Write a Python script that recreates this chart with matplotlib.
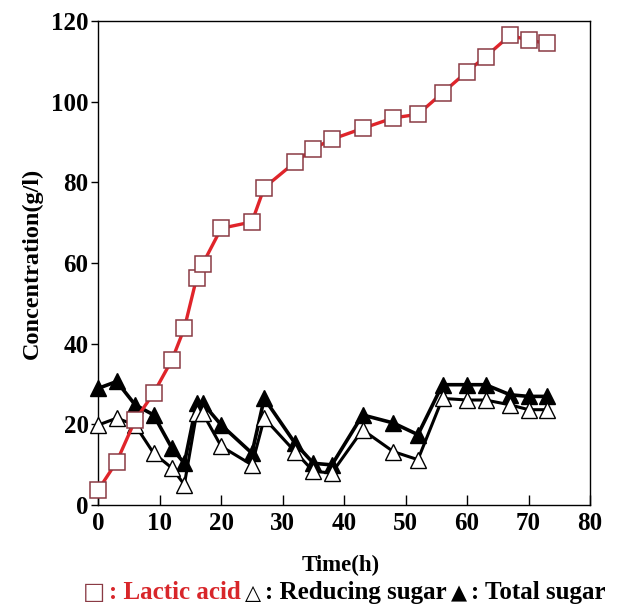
import matplotlib
matplotlib.use("Agg")
import matplotlib.pyplot as plt
from matplotlib.offsetbox import TextArea, HPacker, AnchoredOffsetbox

time_h = [0, 3, 6, 9, 12, 14, 16, 17, 20, 25, 27, 32, 35, 38, 43, 48, 52, 56, 60, 63, 67, 70, 73]
lactic_acid = [3.7, 10.7, 21.0, 27.7, 36.0, 43.8, 56.3, 59.8, 68.6, 70.2, 78.7, 85.0, 88.4, 90.7,
               93.4, 96.0, 96.9, 102.2, 107.5, 111.2, 116.5, 115.3, 114.5]
reducing_sugar = [19.8, 21.5, 19.8, 12.8, 9.1, 5.0, 22.7, 22.7, 14.5, 9.9, 21.5, 13.2, 8.3, 7.9,
                  18.6, 13.2, 11.2, 26.4, 26.0, 26.0, 24.8, 23.6, 23.6]
total_sugar = [28.9, 30.6, 24.8, 22.3, 14.0, 10.3, 25.2, 25.2, 19.8, 12.8, 26.4, 15.3, 10.3, 9.9,
               22.3, 20.3, 17.4, 29.8, 29.8, 29.8, 27.3, 26.9, 26.9]

x_ticks = [0, 10, 20, 30, 40, 50, 60, 70, 80]
y_ticks = [0, 20, 40, 60, 80, 100, 120]

plt.rcParams['font.family'] = ['Liberation Serif', 'DejaVu Serif']
plt.rcParams['font.weight'] = 'bold'

fig = plt.figure(figsize=(6.22, 6.06), dpi=100)
ax = fig.add_axes([0.158, 0.167, 0.7906, 0.798])

ax.plot(time_h, total_sugar, color='black', lw=2.6, marker='^', ms=11,
        mfc='black', mec='black', clip_on=False, zorder=3)
ax.plot(time_h, reducing_sugar, color='black', lw=2.2, marker='^', ms=12,
        mfc='white', mec='black', mew=1.0, clip_on=False, zorder=4)
ax.plot(time_h, lactic_acid, color='#e0242a', lw=2.4, marker='s', ms=12,
        mfc='white', mec='#8a3a44', mew=1.1, clip_on=False, zorder=5)

ax.set_xlim(0, 80)
ax.set_ylim(0, 120)
ax.set_xticks(x_ticks)
ax.set_yticks(y_ticks)
ax.tick_params(axis='x', direction='in', length=7, width=1, labelsize=18, pad=5)
ax.tick_params(axis='y', direction='out', length=5, width=1, labelsize=18, pad=2)
for lab in ax.get_xticklabels() + ax.get_yticklabels():
    lab.set_fontweight('bold')
for s in ax.spines.values():
    s.set_linewidth(1.0)

ax.set_xlabel('Time(h)', fontsize=16.5, fontweight='bold')
ax.xaxis.set_label_coords(0.492, -0.104)
ax.set_ylabel('Concentration(g/l)', fontsize=17.5, fontweight='bold', labelpad=6)

tp = dict(fontsize=18, fontweight='bold')
parts = [
    TextArea('\u25a1', textprops=dict(color='#8a3a44', fontsize=17, family=['DejaVu Serif'])),
    TextArea(': Lactic acid', textprops=dict(color='#d8262a', **tp)),
    TextArea('\u25b3', textprops=dict(color='black', fontsize=15, family=['DejaVu Serif'])),
    TextArea(': Reducing sugar', textprops=dict(color='black', **tp)),
    TextArea('\u25b2', textprops=dict(color='black', fontsize=15, family=['DejaVu Serif'])),
    TextArea(': Total sugar', textprops=dict(color='black', **tp)),
]
box = HPacker(children=parts, align='baseline', pad=0, sep=3)
anch = AnchoredOffsetbox(loc='center', child=box, frameon=False,
                         bbox_to_anchor=(0.553, 0.023), bbox_transform=fig.transFigure,
                         borderpad=0, pad=0)
fig.add_artist(anch)

fig.savefig('out.png', dpi=100)
